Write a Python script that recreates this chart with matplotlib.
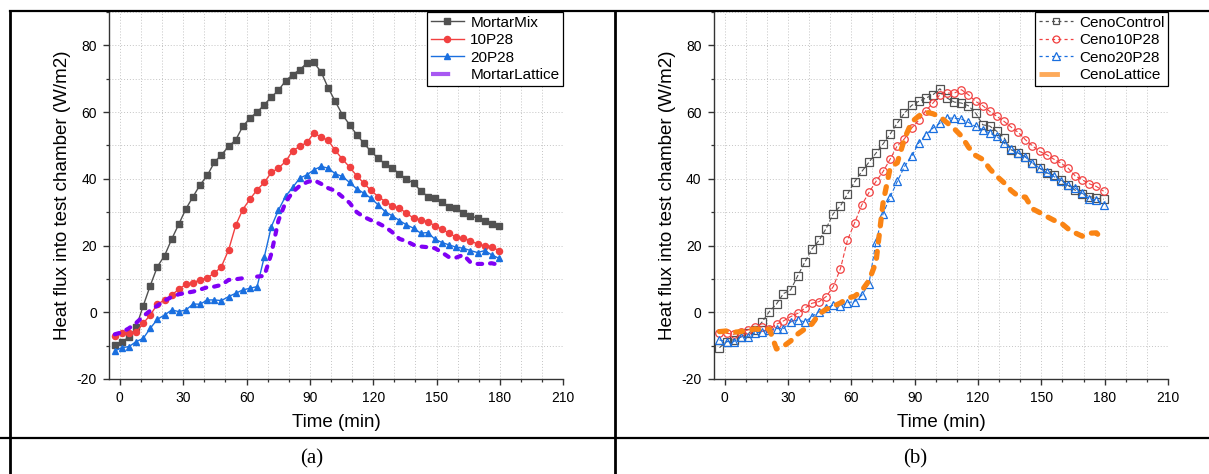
import numpy as np
import matplotlib
matplotlib.use('Agg')
import matplotlib.pyplot as plt
from matplotlib.lines import Line2D
from matplotlib.ticker import MultipleLocator

plt.rcParams['font.family'] = ['Liberation Sans', 'DejaVu Sans']
plt.rcParams['axes.unicode_minus'] = False

# sampling times (min), shared by all curves
TIME = [-2.4, 1.0, 4.3, 7.7, 11.1, 14.4, 17.8, 21.2, 24.6, 27.9,
        31.3, 34.7, 38.0, 41.4, 44.8, 48.1, 51.5, 54.9, 58.2, 61.6,
        65.0, 68.4, 71.7, 75.1, 78.5, 81.8, 85.2, 88.6, 91.9, 95.3,
        98.7, 102.0, 105.4, 108.8, 112.2, 115.5, 118.9, 122.3, 125.6, 129.0,
        132.4, 135.7, 139.1, 142.5, 145.8, 149.2, 152.6, 155.9, 159.3, 162.7,
        166.0, 169.4, 172.8, 176.1, 179.5]

# panel (a)
mortar_mix = [-9.8, -8.8, -7.5, -4.5, 2.0, 8.0, 13.7, 17.0, 22.0, 26.4,
              31.0, 34.7, 38.2, 41.0, 45.0, 47.2, 49.7, 51.7, 55.7, 58.2,
              60.0, 62.2, 64.5, 66.5, 69.4, 71.2, 72.7, 74.7, 74.9, 72.0,
              67.2, 63.2, 59.2, 56.2, 53.2, 50.7, 48.2, 46.2, 44.4, 43.2,
              41.5, 39.9, 38.7, 36.4, 34.7, 34.2, 33.2, 31.5, 31.2, 29.9,
              28.9, 28.2, 27.5, 26.5, 25.9]
p10_28 = [-7.1, -6.2, -6.3, -6.0, -3.3, -0.8, 2.4, 3.7, 5.2, 6.9,
          8.4, 8.9, 9.7, 10.4, 11.7, 13.7, 18.7, 26.1, 30.8, 33.9,
          36.7, 38.9, 41.9, 43.2, 45.2, 48.4, 49.7, 50.9, 53.7, 52.5,
          51.5, 48.5, 45.9, 43.5, 40.9, 38.7, 36.5, 34.7, 33.2, 31.9,
          31.2, 29.7, 28.2, 27.7, 27.2, 25.9, 24.9, 23.7, 22.5, 22.2,
          21.5, 20.4, 19.9, 19.7, 18.4]
p20_28 = [-11.6, -10.6, -10.3, -8.8, -7.8, -4.8, -2.1, -0.8, 0.7, 0.2,
          0.7, 2.5, 2.4, 3.7, 3.7, 3.5, 4.7, 5.7, 6.7, 7.2,
          7.7, 16.6, 25.6, 30.6, 34.8, 37.4, 40.2, 41.2, 42.7, 43.7,
          43.2, 41.5, 40.7, 38.9, 37.0, 35.7, 34.2, 32.2, 30.2, 28.9,
          27.5, 26.2, 25.2, 23.7, 23.9, 21.9, 20.9, 20.2, 19.5, 19.2,
          18.5, 17.9, 18.5, 17.2, 16.2]
mortar_lattice = [-6.6, -6.0, -4.8, -3.2, -1.2, 0.5, 2.0, 3.5, 4.6, 5.4,
                  5.8, 6.2, 6.8, 7.5, 7.7, 8.2, 9.7, 9.9, 10.2, np.nan,
                  10.7, 10.9, 17.5, 27.5, 33.0, 36.0, 37.9, 39.0, 39.6, 38.5,
                  37.2, 36.4, 34.6, 32.8, 30.0, 28.6, 27.6, 26.7, 25.6, 24.0,
                  22.0, 21.3, 20.2, 19.7, 19.5, 19.2, 17.9, 16.5, 16.4, 17.2,
                  15.0, 14.5, 14.5, 14.7, 14.2]

# panel (b)
ceno_control = [-10.6, -8.8, -8.2, -7.4, -6.2, -5.3, -2.9, 0.2, 2.5, 5.6,
                6.7, 11.0, 15.0, 19.0, 21.6, 25.1, 29.6, 31.9, 35.4, 39.1,
                42.2, 45.0, 47.7, 50.5, 53.5, 56.7, 59.7, 62.0, 63.2, 64.2,
                65.2, 67.0, 64.2, 63.0, 62.7, 61.9, 59.7, 56.2, 55.8, 54.2,
                52.3, 48.7, 47.7, 46.6, 44.7, 43.2, 41.7, 41.2, 39.7, 38.0,
                36.6, 35.4, 34.7, 34.2, 33.9]
ceno_10p28 = [-6.3, -6.3, -6.6, -5.9, -5.3, -4.4, -4.4, -4.9, -3.6, -2.6,
              -1.3, -0.3, 1.2, 2.7, 3.2, 4.7, 7.7, 13.1, 21.6, 26.8,
              32.2, 35.9, 39.2, 42.2, 46.0, 49.9, 52.0, 55.2, 57.5, 60.4,
              62.7, 65.2, 65.7, 65.7, 66.7, 65.2, 63.2, 61.9, 60.2, 58.7,
              57.2, 55.5, 53.9, 51.7, 49.9, 48.2, 47.2, 45.9, 44.7, 43.2,
              40.9, 39.7, 38.5, 37.7, 36.3]
ceno_20p28 = [-8.3, -8.8, -8.8, -7.4, -7.4, -6.3, -5.8, -5.3, -4.9, -4.9,
              -2.9, -2.3, -2.9, -1.3, 0.2, 1.2, 2.2, 1.9, 2.9, 3.2,
              5.1, 8.6, 21.1, 29.6, 34.7, 39.2, 43.7, 46.7, 50.7, 53.2,
              55.2, 56.7, 58.2, 58.2, 57.9, 56.9, 55.7, 54.7, 53.7, 52.7,
              50.7, 49.0, 47.7, 46.5, 44.7, 43.2, 41.9, 40.7, 39.4, 38.2,
              37.2, 35.7, 33.9, 33.7, 32.3]
ceno_lattice = [-5.8, -5.6, -6.0, -5.8, -5.4, -5.0, -5.2, -5.0, -11.0, -10.2,
                -8.6, -6.5, -5.0, -3.5, -0.5, 0.9, 1.8, 2.8, 4.2, 4.8,
                6.5, 9.5, 15.0, 33.0, 43.5, 44.8, 52.0, 57.0, 58.8, 60.0,
                59.5, 58.6, 56.8, 55.0, 52.8, 49.5, 47.0, 45.8, 43.0, 40.7,
                38.8, 36.5, 34.8, 34.5, 31.0, 29.9, 28.7, 27.6, 26.8, 25.0,
                23.8, 22.8, 23.7, 23.8, 21.5]

GRAY = '#515151'
RED = '#F14040'
BLUE = '#1A6FDF'
PURPLE = '#8000F5'
PURPLE_LIGHT = '#A858F2'
ORANGE = '#FA8414'
ORANGE_LIGHT = '#FDAA5A'

W, H = 1209, 474


def px(x, y):
    return x / W, 1 - y / H


def style_axes(ax):
    ax.set_xlim(-5, 210)
    ax.set_ylim(-20, 90)
    ax.xaxis.set_major_locator(MultipleLocator(30))
    ax.xaxis.set_minor_locator(MultipleLocator(10))
    ax.yaxis.set_major_locator(MultipleLocator(20))
    ax.yaxis.set_minor_locator(MultipleLocator(10))
    ax.set_yticks([-20, 0, 20, 40, 60, 80])
    for s in ['top', 'right']:
        ax.spines[s].set_visible(False)
    for s in ['left', 'bottom']:
        ax.spines[s].set_color('#333333')
        ax.spines[s].set_linewidth(1.0)
    ax.tick_params(which='major', direction='out', length=4, width=1.0,
                   color='#333333', labelsize=10, pad=5)
    ax.tick_params(which='minor', direction='out', length=2.5, width=0.9,
                   color='#333333')
    ax.grid(which='both', color='#c4c4c4', linestyle=(0, (1, 2)), linewidth=0.7)
    ax.set_axisbelow(True)
    ax.set_xlabel('Time (min)', fontsize=13.5, labelpad=6)
    ax.set_ylabel('Heat flux into test chamber (W/m2)', fontsize=13.5, labelpad=4)


def add_legend(ax, handles, labels):
    leg = ax.legend(handles, labels, loc='upper right', bbox_to_anchor=(1, 1),
                    borderaxespad=0, fontsize=11, fancybox=False, framealpha=1,
                    edgecolor='black', handlelength=2.2, handletextpad=0.4,
                    labelspacing=0.22, borderpad=0.25)
    leg.get_frame().set_linewidth(0.9)


fig = plt.figure(figsize=(W / 100, H / 100), dpi=100)

ax1 = fig.add_axes([109.3 / W, 95 / H, 454 / W, 367 / H])
ax2 = fig.add_axes([714 / W, 95 / H, 454 / W, 367 / H])

# (a)
ax1.plot(TIME, mortar_mix, color=GRAY, lw=1.0, marker='s', ms=4.0)
ax1.plot(TIME, p10_28, color=RED, lw=1.0, marker='o', ms=4.4)
ax1.plot(TIME, p20_28, color=BLUE, lw=1.0, marker='^', ms=4.8)
ax1.plot(TIME, mortar_lattice, color=PURPLE, lw=3.0, linestyle=(0, (1.1, 1.9)),
         dash_capstyle='round')
style_axes(ax1)
add_legend(ax1, [
    Line2D([], [], color=GRAY, lw=1.0, marker='s', ms=4.0),
    Line2D([], [], color=RED, lw=1.0, marker='o', ms=4.4),
    Line2D([], [], color=BLUE, lw=1.0, marker='^', ms=4.8),
    Line2D([], [], color=PURPLE_LIGHT, lw=3, linestyle=(0, (4.6, 10))),
], ['MortarMix', '10P28', '20P28', 'MortarLattice'])

# (b)
dash = (0, (4, 2))
ax2.plot(TIME, ceno_control, color=GRAY, lw=0.8, linestyle=dash, marker='s', ms=5.2,
         mfc='none', mew=0.9)
ax2.plot(TIME, ceno_10p28, color=RED, lw=0.8, linestyle=dash, marker='o', ms=5.4,
         mfc='none', mew=0.9)
ax2.plot(TIME, ceno_20p28, color=BLUE, lw=0.8, linestyle=dash, marker='^', ms=6.0,
         mfc='none', mew=0.9)
ax2.plot(TIME, ceno_lattice, color=ORANGE, lw=3.8, linestyle=(0, (1.3, 1.8)),
         dash_capstyle='round')
style_axes(ax2)
add_legend(ax2, [
    Line2D([], [], color=GRAY, lw=0.9, linestyle=(0, (2.5, 2.5)), marker='s', ms=5,
           mfc='none', mew=0.9),
    Line2D([], [], color=RED, lw=0.9, linestyle=(0, (2.5, 2.5)), marker='o', ms=5,
           mfc='none', mew=0.9),
    Line2D([], [], color=BLUE, lw=0.9, linestyle=(0, (2.5, 2.5)), marker='^', ms=5.5,
           mfc='none', mew=0.9),
    Line2D([], [], color=ORANGE_LIGHT, lw=3.5, linestyle=(0, (4.2, 10))),
], ['CenoControl', 'Ceno10P28', 'Ceno20P28', 'CenoLattice'])

# table frame around the two panels
lines = [
    ((10, 11), (1209, 11), 1.6),
    ((10, 11), (10, 474), 2.0),
    ((615, 11), (615, 474), 2.0),
    ((0, 437.7), (1209, 437.7), 1.6),
]
for p0, p1, lw in lines:
    x0, y0 = px(*p0)
    x1, y1 = px(*p1)
    fig.add_artist(Line2D([x0, x1], [y0, y1], transform=fig.transFigure,
                          color='black', lw=lw))

fig.text(312 / W, 1 - 459 / H, '(a)', ha='center', va='center',
         fontsize=15, family=['Liberation Serif', 'DejaVu Serif'])
fig.text(915 / W, 1 - 459 / H, '(b)', ha='center', va='center',
         fontsize=15, family=['Liberation Serif', 'DejaVu Serif'])

fig.savefig('out.png', dpi=100)
